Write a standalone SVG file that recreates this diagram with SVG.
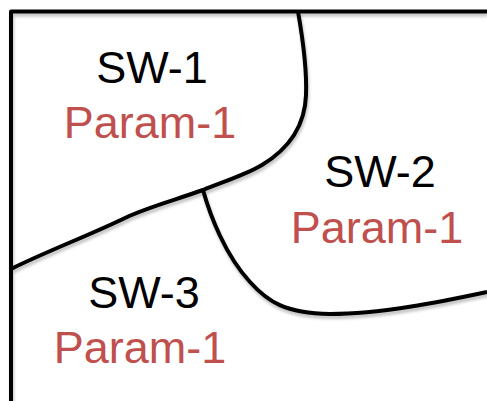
<svg xmlns="http://www.w3.org/2000/svg" width="487" height="401" viewBox="0 0 487 401">
  <defs>
    <style>
      .edge { fill: none; stroke: #000; stroke-width: 4; stroke-linejoin: round; stroke-linecap: butt; }
      .name { font-family: "Liberation Sans", Arial, sans-serif; font-size: 45px; fill: #000; text-anchor: middle; }
      .param { font-family: "Liberation Sans", Arial, sans-serif; font-size: 45px; fill: #C0504D; text-anchor: middle; }
    </style>
    <filter id="soft" x="-10%" y="-10%" width="120%" height="130%">
      <feGaussianBlur in="SourceAlpha" stdDeviation="1.5"/>
      <feOffset dx="1" dy="2.5" result="blur"/>
      <feComponentTransfer><feFuncA type="linear" slope="0.25"/></feComponentTransfer>
      <feMerge><feMergeNode/><feMergeNode in="SourceGraphic"/></feMerge>
    </filter>
  </defs>
  <rect width="487" height="401" fill="#fff"/>

  <g id="connectors" filter="url(#soft)">
    <!-- outer frame: top and left edges -->
    <path class="edge" d="M11 401 V11.5 H487"/>
    <!-- boundary between SW-1 and SW-2, continuing down to the left edge -->
    <path class="edge" d="M298 11.5 C303 40 307 70 306 95 C305 125 290 148 262 165 C245 175 225 181 203 190 C175 200 145 208 125 218 C90 235 45 252 11 269"/>
    <!-- boundary between SW-2 and SW-3 -->
    <path class="edge" d="M203 190 C210 215 225 255 250 282 C268 302 285 313 330 314 C380 314 440 302 487 292"/>
  </g>

  <g id="sw1">
    <text class="name" x="152" y="83">SW-1</text>
    <text class="param" x="150" y="138">Param-1</text>
  </g>
  <g id="sw2">
    <text class="name" x="380" y="187">SW-2</text>
    <text class="param" x="377" y="243">Param-1</text>
  </g>
  <g id="sw3">
    <text class="name" x="144" y="308">SW-3</text>
    <text class="param" x="140" y="363">Param-1</text>
  </g>
</svg>
